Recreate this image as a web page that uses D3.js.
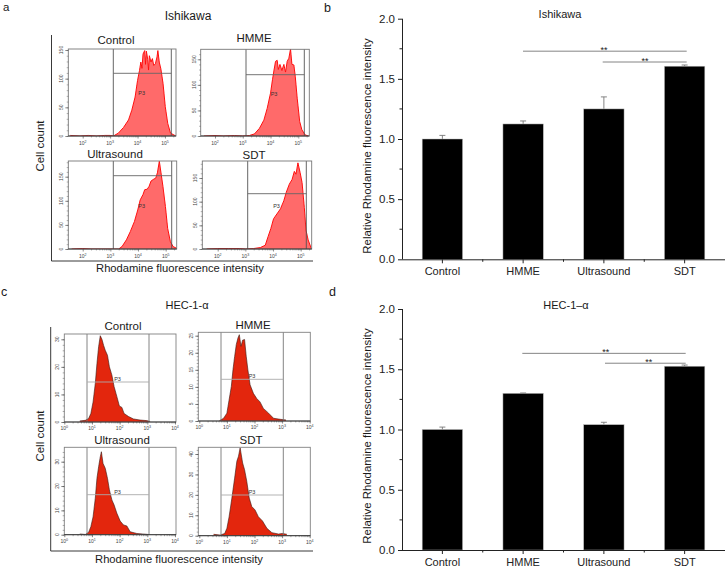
<!DOCTYPE html>
<html><head><meta charset="utf-8">
<script src="https://cdn.jsdelivr.net/npm/d3@7/dist/d3.min.js"></script>
<style>
html,body{margin:0;padding:0;background:#fff}
svg{display:block}
text{font-family:"Liberation Sans",Arial,sans-serif;fill:#1a1a1a}
</style></head><body>
<svg id="c" width="726" height="567"></svg>
<script>
// ---- data ----
const categories = ["Control","HMME","Ultrasound","SDT"];
const ishikawaValues = [1.0,1.125,1.25,1.605];
const ishikawaErrors = [0.03,0.025,0.10,0.01];
const hecValues = [1.0,1.30,1.04,1.525];
const hecErrors = [0.02,0.003,0.02,0.01];
const barTicks = [0,0.5,1,1.5,2];

// flow histograms: log10 intensity and cell count
const aControlLog = [1.55,1.9,2.2,2.5,2.8,3.0,3.12,3.30,3.49,3.67,3.79,3.91,4.0,4.07,4.12,4.16,4.20,4.26,4.29,4.32,4.37,4.40,4.43,4.49,4.54,4.59,4.65,4.71,4.74,4.79,4.85,4.93,5.01,5.10,5.20,5.32,5.39];
const aControlCount = [1,0,1,0,1,1,0,5,15,28,45,68,97,114,129,118,143,149,125,148,134,115,140,129,135,123,126,138,149,129,117,91,51,22,5,2,0];
const aHmmeLog = [1.6,2.0,2.3,2.7,3.0,3.24,3.42,3.60,3.76,3.88,4.0,4.07,4.12,4.18,4.24,4.28,4.34,4.41,4.48,4.54,4.60,4.66,4.72,4.77,4.84,4.89,4.96,5.05,5.13,5.25,5.37];
const aHmmeCount = [0,1,0,1,0,1,4,15,31,54,84,110,127,146,148,130,140,128,140,125,146,152,170,140,139,117,74,28,12,2,0];
const aUltraLog = [1.6,2.0,2.3,2.7,3.0,3.30,3.42,3.58,3.72,3.87,3.99,4.08,4.18,4.24,4.33,4.40,4.47,4.57,4.64,4.70,4.77,4.83,4.90,4.99,5.07,5.17,5.27,5.41];
const aUltraCount = [0,1,0,0,0,0,5,19,36,57,81,102,113,123,124,130,141,145,147,158,182,158,130,88,43,15,5,1];
const aSdtLog = [1.6,2.0,2.4,2.8,3.0,3.30,3.54,3.72,3.82,3.92,4.02,4.14,4.27,4.39,4.48,4.59,4.69,4.77,4.83,4.90,4.98,5.05,5.13,5.19,5.27,5.39];
const aSdtCount = [0,1,1,1,0,1,3,8,26,43,64,74,85,102,120,137,147,164,158,182,161,140,88,40,19,0];
const cControlLog = [0.56,.76,.88,.96,1.04,1.12,1.18,1.24,1.30,1.36,1.42,1.48,1.56,1.63,1.72,1.80,1.90,1.99,2.08,2.16,2.32,2.50,2.74,2.98,3.10];
const cControlCount = [.4,.6,1.3,3.1,7.3,14,21.2,27.3,31.3,30,27.8,26,24.2,20,17,12.8,9.2,5.8,5.3,3.1,2,1.1,.7,.5,.2];
const cHmmeLog = [.73,.88,1.0,1.08,1.16,1.22,1.28,1.34,1.40,1.45,1.51,1.57,1.64,1.70,1.76,1.84,1.96,2.08,2.20,2.32,2.51,2.69,2.93,3.14];
const cHmmeCount = [.1,.8,2.3,6.2,10.1,15,18.9,22.4,24.3,25.3,21.9,23.7,23.9,19,15,10.6,8.1,6.6,5.6,3.7,2.3,.8,.5,.3];
const cUltraLog = [.56,.76,.88,.96,1.04,1.12,1.18,1.24,1.30,1.34,1.40,1.48,1.56,1.63,1.72,1.80,1.90,2.02,2.14,2.26,2.38,2.62,3.04];
const cUltraCount = [.3,.1,1,3.3,7.4,15,23.2,27.9,32,34.1,29.3,27.3,23.2,18.4,14.3,12.2,8.8,5.6,4,3.6,1.2,.5,.1];
const cSdtLog = [.52,.76,.92,1.0,1.08,1.18,1.28,1.36,1.42,1.48,1.57,1.64,1.72,1.81,1.90,2.02,2.14,2.29,2.45,2.63,2.87,3.01,3.17];
const cSdtCount = [.7,.3,1.1,3.6,9.3,18.4,28.2,36.4,38.9,43,35.6,32.3,26.6,18.4,14.3,12.6,9.3,7.2,3.6,1.5,.8,1.1,.7];

const aExps = [2,3,4,5];
const cExps = [0,1,2,3,4];
const aCountTicks = [0,50,100,150];
const cCountTicks = [0,10,20,30];
const cHmmeCountTicks = [0,5,10,15,20,25];
const cSdtCountTicks = [0,10,20,30,40];

// ---- layout ----
const style = {
  a:{fill:"#ff6b6b",line:"#ff1010",lw:1,frame:"#777",gate:"#555",hgate:"#666",tick:"#444",exps:aExps},
  c:{fill:"#e32507",line:"#3a1a14",lw:.6,frame:"#808080",gate:"#777",hgate:"#aaa",tick:"#333",exps:cExps}
};
const panels = [
 {s:"a",lg:aControlLog,ct:aControlCount,yt:aCountTicks,minor:10,f:[68.3,176,49,136],xp:[82.7,165],yp:[136,50],g:[113.3,171.3,73.3],p3:[141.7,95],t:["Control",116,44]},
 {s:"a",lg:aHmmeLog,ct:aHmmeCount,yt:aCountTicks,minor:10,f:[200.7,309.3,49.3,136],xp:[215,298.3],yp:[136,59.3],g:[246,304.3,74.7],p3:[274,96],t:["HMME",254,42]},
 {s:"a",lg:aUltraLog,ct:aUltraCount,yt:aCountTicks,minor:10,f:[68.3,176.7,161,249],xp:[82.7,165.7],yp:[249,176.7],g:[113.3,171.7,175.7],p3:[141.7,208],t:["Ultrasound",115,158]},
 {s:"a",lg:aSdtLog,ct:aSdtCount,yt:aCountTicks,minor:10,f:[202.3,311.7,161,249],xp:[217.7,300.7],yp:[249,178],g:[247.7,306.3,193.7],p3:[276.5,208],t:["SDT",254,159]},
 {s:"c",lg:cControlLog,ct:cControlCount,yt:cCountTicks,minor:2,f:[64.3,176,334,422],xp:[64.3,175],yp:[422,339.3],g:[87,149,382],p3:[117.5,381],t:["Control",123,330]},
 {s:"c",lg:cHmmeLog,ct:cHmmeCount,yt:cHmmeCountTicks,minor:1,f:[198.3,310.3,332.3,421],xp:[199.3,309.7],yp:[421,335.7],g:[221,283.3,379.3],p3:[252,378],t:["HMME",253,329]},
 {s:"c",lg:cUltraLog,ct:cUltraCount,yt:cCountTicks,minor:2,f:[64.3,176,447.3,534.7],xp:[64.3,175],yp:[534.7,461.7],g:[87,149,494.7],p3:[117.5,494],t:["Ultrasound",122,444]},
 {s:"c",lg:cSdtLog,ct:cSdtCount,yt:cSdtCountTicks,minor:2,f:[198.3,310.3,447.3,535.7],xp:[199.3,309.7],yp:[535.7,454],g:[221,283.3,495],p3:[252,494],t:["SDT",251,444]}
];

const svg = d3.select("#c");
const defs = svg.append("defs");
defs.append("filter").attr("id","soft").attr("x","-5%").attr("y","-5%").attr("width","110%").attr("height","110%")
  .append("feGaussianBlur").attr("stdDeviation",0.35);

function txt(x,y,s,size,o={}){
  const t = svg.append("text").attr("x",x).attr("y",y).attr("font-size",size).text(s)
    .attr("text-anchor",o.anchor||"middle");
  if(o.rot) t.attr("transform",`rotate(${o.rot} ${x} ${y})`);
  if(o.fill) t.style("fill",o.fill);
  return t;
}

panels.forEach((p,i)=>{
  const st = style[p.s];
  const g = svg.append("g");
  const exps = st.exps;
  const x = d3.scaleLinear().domain([exps[0],exps[exps.length-1]]).range(p.xp);
  const y = d3.scaleLinear().domain([0,p.yt[p.yt.length-1]]).range(p.yp);
  const [l,r,t,b] = p.f;
  const clipId = "cl"+i;
  defs.append("clipPath").attr("id",clipId).append("rect").attr("x",l).attr("y",t-1).attr("width",r-l).attr("height",b-t+1);

  const pts = p.lg.map((v,k)=>[v,p.ct[k]]);
  const marks = g.append("g").attr("clip-path",`url(#${clipId})`);
  const inner = marks.append("g").attr("filter","url(#soft)");
  inner.append("path").datum(pts).attr("fill",st.fill)
    .attr("d",d3.area().x(d=>x(d[0])).y0(b).y1(d=>y(d[1])));
  inner.append("path").datum(pts).attr("fill","none").attr("stroke",st.line).attr("stroke-width",st.lw)
    .attr("d",d3.line().x(d=>x(d[0])).y(d=>y(d[1])));

  // gates
  g.append("line").attr("x1",p.g[0]).attr("x2",p.g[0]).attr("y1",t).attr("y2",b).attr("stroke",st.gate).attr("stroke-width",.9);
  g.append("line").attr("x1",p.g[1]).attr("x2",p.g[1]).attr("y1",t).attr("y2",b).attr("stroke",st.gate).attr("stroke-width",.9);
  g.append("line").attr("x1",p.g[0]).attr("x2",p.g[1]).attr("y1",p.g[2]).attr("y2",p.g[2]).attr("stroke",st.hgate).attr("stroke-width",.9);

  // frame
  g.append("rect").attr("x",l).attr("y",t).attr("width",r-l).attr("height",b-t).attr("fill","none").attr("stroke",st.frame).attr("stroke-width",.9);
  g.append("line").attr("x1",l).attr("x2",r).attr("y1",b).attr("y2",b).attr("stroke","#222").attr("stroke-width",.8);

  // x axis: log ticks
  const minorX = [];
  exps.forEach(e=>d3.range(2,10).forEach(m=>{const v=e+Math.log10(m); if(x(v)>l&&x(v)<r) minorX.push(v);}));
  const ax = g.append("g").attr("transform",`translate(0,${b})`)
    .call(d3.axisBottom(x).tickValues(exps).tickSize(2.5).tickFormat(""));
  ax.select(".domain").remove();
  ax.selectAll("line").attr("stroke",st.tick).attr("stroke-width",.6);
  g.append("g").attr("transform",`translate(0,${b})`)
    .call(d3.axisBottom(x).tickValues(minorX).tickSize(1.5).tickFormat(""))
    .call(s=>s.select(".domain").remove())
    .selectAll("line").attr("stroke",st.tick).attr("stroke-width",.4);
  exps.forEach(e=>{
    const tx = g.append("text").attr("x",x(e)).attr("y",b+ (p.s==="a"?9:8)).attr("text-anchor","middle").attr("font-size",5).style("fill","#444").text("10");
    tx.append("tspan").attr("dy",-1.6).attr("font-size",3.6).text(e);
  });

  // y axis
  const yMax = y.invert(t);
  const ay = g.append("g").attr("transform",`translate(${l},0)`)
    .call(d3.axisLeft(y).tickValues(p.yt).tickSize(3).tickFormat(""));
  ay.select(".domain").remove();
  ay.selectAll("line").attr("stroke",st.tick).attr("stroke-width",.6);
  g.append("g").attr("transform",`translate(${l},0)`)
    .call(d3.axisLeft(y).tickValues(d3.range(0,yMax,p.minor)).tickSize(1.6).tickFormat(""))
    .call(s=>s.select(".domain").remove())
    .selectAll("line").attr("stroke",st.tick).attr("stroke-width",.4);
  p.yt.forEach(v=>{
    const yy=y(v), xx=l-5;
    g.append("text").attr("x",xx).attr("y",yy).attr("transform",`rotate(-90 ${xx} ${yy})`)
      .attr("text-anchor","middle").attr("font-size",5).style("fill","#444").text(v);
  });

  txt(p.p3[0],p.p3[1],"P3",5.5,{fill:"#333"});
  txt(p.t[1],p.t[2],p.t[0],11.5);
});

// flow panel decorations
[[51.5,35,261,313],[50.7,327,551,313]].forEach(([ax,top,bot,right])=>{
  svg.append("line").attr("x1",ax).attr("x2",ax).attr("y1",top).attr("y2",bot).attr("stroke","#222").attr("stroke-width",.9);
  svg.append("line").attr("x1",ax).attr("x2",right).attr("y1",bot).attr("y2",bot).attr("stroke","#222").attr("stroke-width",.9);
});
txt(180,272,"Rhodamine fluorescence intensity",11.2);
txt(179,563,"Rhodamine fluorescence intensity",11.2);
txt(44,146,"Cell count",11.5,{rot:-90});
txt(44,436,"Cell count",11.5,{rot:-90});
txt(188,20,"Ishikawa",12);
txt(187,309,"HEC-1-α",11);
txt(3,10.5,"a",11.5,{anchor:"start"});
txt(324,12,"b",12.5,{anchor:"start"});
txt(1,296,"c",12.5,{anchor:"start"});
txt(329,296,"d",12.5,{anchor:"start"});

// ---- bar panels ----
function barPanel(o){
  const x = d3.scaleBand().domain(categories).range([o.l,o.r]).paddingInner(.5).paddingOuter(.25);
  const y = d3.scaleLinear().domain([0,2]).range([o.b,o.t]);
  const g = svg.append("g");
  const cx = c=>x(c)+x.bandwidth()/2;

  g.selectAll(".err").data(categories).join("path")
    .attr("fill","none").attr("stroke","#777").attr("stroke-width",.9)
    .attr("d",(c,i)=>{const v=o.vals[i]+o.errs[i],X=cx(c);
      return `M${X},${y(o.vals[i])}L${X},${y(v)}M${X-3},${y(v)}L${X+3},${y(v)}`;});
  g.selectAll(".bar").data(categories).join("rect")
    .attr("x",c=>x(c)).attr("width",x.bandwidth())
    .attr("y",(c,i)=>y(o.vals[i])).attr("height",(c,i)=>o.b-y(o.vals[i]))
    .attr("fill","#000").attr("stroke","#bbb").attr("stroke-width",.5);

  const ax = g.append("g").attr("transform",`translate(0,${o.b})`)
    .call(d3.axisBottom(x).tickSize(4).tickPadding(4));
  ax.select(".domain").attr("d",`M${o.l},0.5H${o.r}`).attr("stroke","#222");
  ax.selectAll("line").attr("stroke","#222");
  ax.selectAll("text").attr("font-size",11).attr("font-family",null).style("fill","#222");
  const bnd = categories.slice(0,3).map(c=>cx(c)+x.step()/2);
  g.selectAll(".mt").data(bnd).join("line").attr("x1",d=>d).attr("x2",d=>d).attr("y1",o.b).attr("y2",o.b+2.5).attr("stroke","#222");

  const ay = g.append("g").attr("transform",`translate(${o.l},0)`)
    .call(d3.axisLeft(y).tickValues(barTicks).tickSize(4).tickPadding(3).tickFormat(d3.format(".1f")));
  ay.select(".domain").attr("d",`M0.5,${o.t}V${o.b}`).attr("stroke","#222");
  ay.selectAll("line").attr("stroke","#222");
  ay.selectAll("text").attr("font-size",11.5).style("fill","#222");
  g.selectAll(".my").data([.25,.75,1.25,1.75]).join("line")
    .attr("x1",o.l-2.5).attr("x2",o.l).attr("y1",d=>y(d)).attr("y2",d=>y(d)).attr("stroke","#222");

  // significance
  o.sig.forEach(([from,to,lvl,sx])=>{
    g.append("line").attr("x1",from).attr("x2",to).attr("y1",y(lvl)).attr("y2",y(lvl)).attr("stroke","#666").attr("stroke-width",.8);
    g.append("text").attr("x",sx).attr("y",y(lvl)+2).attr("text-anchor","middle").attr("font-size",9).text("**");
  });
  txt(o.title[1],o.title[2],o.title[0],11);
  txt(o.yl[0],o.yl[1],"Relative Rhodamine fluorescence intensity",11.4,{rot:-90});
}
barPanel({l:402,r:725,t:18.7,b:259.3,vals:ishikawaValues,errs:ishikawaErrors,
  sig:[[523,686.7,1.73,604],[602.7,686.7,1.64,645]],title:["Ishikawa",560,18],yl:[370.5,146]});
barPanel({l:402,r:725,t:309,b:550,vals:hecValues,errs:hecErrors,
  sig:[[522.3,685.7,1.632,605.7],[605,685.7,1.55,648.7]],title:["HEC-1–α",566,309],yl:[370.5,436]});
</script>
</body></html>
